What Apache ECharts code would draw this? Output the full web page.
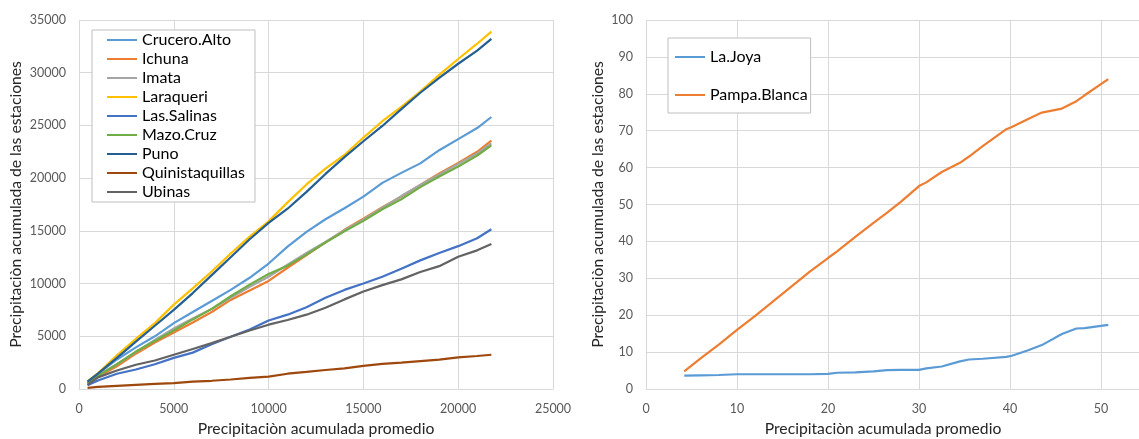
<!DOCTYPE html>
<html>
<head>
<meta charset="utf-8">
<script src="https://cdn.jsdelivr.net/npm/echarts@6/dist/echarts.min.js"></script>
<style>
  html, body { margin: 0; padding: 0; background: #fff; }
  #chart { width: 1139px; height: 439px; }
</style>
</head>
<body>
<div id="chart"></div>
<script>
// Precipitación acumulada promedio (eje X común, panel izquierdo)
const xPromedio = [450, 1000, 2000, 3000, 4000, 5000, 6000, 7000, 8000, 9000, 10000, 11000,
  12000, 13000, 14000, 15000, 16000, 17000, 18000, 19000, 20000, 21000, 21750];

const crucero = [650, 1450, 2800, 3950, 5000, 6250, 7300, 8350, 9400, 10550, 11900, 13500,
  14900, 16100, 17150, 18250, 19550, 20500, 21400, 22650, 23700, 24750, 25800];
const ichuna = [500, 1150, 2150, 3350, 4400, 5350, 6300, 7300, 8450, 9350, 10250, 11500,
  12700, 13900, 15100, 16150, 17250, 18250, 19350, 20450, 21450, 22500, 23550];
const imata = [550, 1300, 2350, 3500, 4650, 5750, 6700, 7600, 8650, 9700, 10650, 11800,
  12900, 13950, 15050, 16050, 17200, 18300, 19350, 20350, 21350, 22350, 23300];
const laraqueri = [720, 1500, 3200, 4750, 6250, 8000, 9550, 11150, 12850, 14450, 15900, 17700,
  19400, 20900, 22200, 23850, 25400, 26750, 28200, 29800, 31300, 32750, 33900];
const lasSalinas = [350, 800, 1450, 1850, 2350, 2950, 3450, 4250, 4950, 5650, 6500, 7050,
  7750, 8650, 9400, 10000, 10650, 11400, 12200, 12900, 13550, 14300, 15150];
const mazoCruz = [550, 1250, 2350, 3550, 4550, 5550, 6600, 7600, 8800, 9900, 10900, 11700,
  12750, 13900, 14950, 15950, 17050, 18000, 19150, 20150, 21100, 22150, 23100];
const puno = [700, 1450, 2950, 4500, 6000, 7500, 9100, 10800, 12500, 14200, 15750, 17100,
  18700, 20400, 22000, 23500, 24950, 26550, 28100, 29500, 30850, 32100, 33200];
const quinistaquillas = [100, 200, 300, 400, 480, 550, 700, 780, 900, 1050, 1180, 1450,
  1620, 1800, 1960, 2200, 2380, 2500, 2650, 2780, 3000, 3130, 3250];
const ubinas = [400, 1100, 1750, 2300, 2700, 3250, 3800, 4350, 4950, 5550, 6100, 6550,
  7050, 7700, 8500, 9250, 9850, 10400, 11100, 11650, 12550, 13150, 13750];

// Panel derecho
const xPromedioCosta = [4.2, 6, 8, 10, 12, 14, 16, 18, 20, 21, 23, 25, 26.5, 28, 30, 30.8,
  32.5, 34.5, 35.5, 37, 39.6, 40.2, 42, 43.5, 45.7, 47.3, 48.2, 50.8];
const laJoya = [3.6, 3.7, 3.8, 4.0, 4.0, 4.0, 4.0, 4.0, 4.1, 4.4, 4.5, 4.8, 5.1, 5.2, 5.2, 5.6,
  6.1, 7.5, 8.0, 8.2, 8.7, 9.0, 10.5, 11.9, 14.9, 16.4, 16.5, 17.4];
const pampaBlanca = [4.8, 8.3, 12.0, 16.0, 19.8, 23.8, 27.8, 31.8, 35.5, 37.3, 41.2, 45.0, 47.8,
  50.7, 55.0, 56.0, 58.8, 61.3, 63.0, 65.8, 70.4, 71.0, 73.2, 74.9, 76.0, 78.0, 79.6, 84.0];

const leftSeries = [
  ['Crucero.Alto', crucero, '#5B9BD5'],
  ['Ichuna', ichuna, '#ED7D31'],
  ['Imata', imata, '#A5A5A5'],
  ['Laraqueri', laraqueri, '#FFC000'],
  ['Las.Salinas', lasSalinas, '#4472C4'],
  ['Mazo.Cruz', mazoCruz, '#70AD47'],
  ['Puno', puno, '#255E91'],
  ['Quinistaquillas', quinistaquillas, '#9E480E'],
  ['Ubinas', ubinas, '#636363']
];
const rightSeries = [
  ['La.Joya', laJoya, '#5B9BD5'],
  ['Pampa.Blanca', pampaBlanca, '#ED7D31']
];

const FONT = 'Lato, "Open Sans", sans-serif';
const gridColor = '#D9D9D9';
const labelColor = '#595959';
const titleText = 'Precipitaciòn acumulada de las estaciones';
const xTitle = 'Precipitaciòn acumulada promedio';

function zip(xs, ys) { return xs.map((x, i) => [x, ys[i]]); }
const plain = v => String(v);

function xAxisCfg(gridIndex, max, interval, namePad) {
  return {
    type: 'value', gridIndex, min: 0, max, interval,
    name: xTitle, nameLocation: 'middle', nameGap: 32,
    nameTextStyle: { fontFamily: FONT, fontSize: 15.7, color: '#262626', padding: namePad },
    axisLine: { show: true, lineStyle: { color: gridColor, width: 1 } },
    axisTick: { show: false },
    axisLabel: { fontFamily: FONT, fontSize: 12.5, color: labelColor, margin: 13, formatter: plain },
    splitLine: { show: true, lineStyle: { color: gridColor, width: 1 } }
  };
}
function yAxisCfg(gridIndex, max, interval, nameGap) {
  return {
    type: 'value', gridIndex, min: 0, max, interval,
    name: titleText, nameLocation: 'middle', nameGap,
    nameTextStyle: { fontFamily: FONT, fontSize: 15.7, color: '#262626' },
    axisLine: { show: false },
    axisTick: { show: false },
    axisLabel: { fontFamily: FONT, fontSize: 12.5, color: labelColor, margin: 13, formatter: plain },
    splitLine: { show: true, lineStyle: { color: gridColor, width: 1 } }
  };
}

const series = [];
leftSeries.forEach(([name, ys, color]) => series.push({
  name, type: 'line', xAxisIndex: 0, yAxisIndex: 0, data: zip(xPromedio, ys),
  symbol: 'none', smooth: false, color, lineStyle: { width: 2.2, color }
}));
rightSeries.forEach(([name, ys, color]) => series.push({
  name, type: 'line', xAxisIndex: 1, yAxisIndex: 1, data: zip(xPromedioCosta, ys),
  symbol: 'none', smooth: false, color, lineStyle: { width: 2.2, color }
}));

const legendBase = {
  orient: 'vertical', itemWidth: 30, itemHeight: 16,
  backgroundColor: '#fff', borderColor: '#BFBFBF', borderWidth: 1,
  textStyle: { fontFamily: FONT, fontSize: 16, lineHeight: 16, color: '#000' },
  icon: 'path://M0,7 L30,7 L30,9 L0,9 Z'
};

const chart = echarts.init(document.getElementById('chart'), null, { renderer: 'canvas' });
chart.setOption({
  animation: false,
  backgroundColor: '#fff',
  grid: [
    { left: 79, right: 586, top: 20, bottom: 50, outerBoundsMode: 'none' },
    { left: 646, right: -53, top: 20, bottom: 50, outerBoundsMode: 'none' }
  ],
  xAxis: [xAxisCfg(0, 25000, 5000, [0, 0, 0, 0]), xAxisCfg(1, 60, 10, [0, 72, 0, 0])],
  yAxis: [yAxisCfg(0, 35000, 5000, 55), yAxisCfg(1, 100, 10, 40)],
  legend: [
    Object.assign({}, legendBase, {
      data: leftSeries.map(s => s[0]), left: 92, top: 30,
      itemGap: 3, padding: [2, 10, 2, 15]
    }),
    Object.assign({}, legendBase, {
      data: rightSeries.map(s => s[0]), left: 668, top: 38,
      itemGap: 22, padding: [11, 3, 10, 7]
    })
  ],
  series
});
</script>
</body>
</html>
